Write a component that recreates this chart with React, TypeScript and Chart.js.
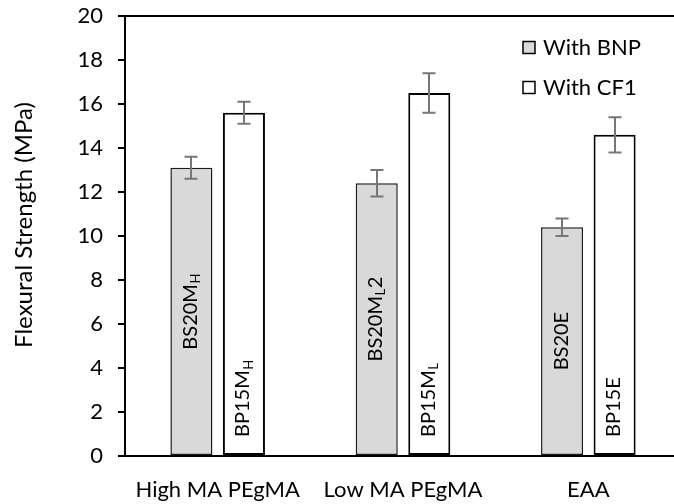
import React, { useEffect, useRef } from "react";
import { Chart, registerables } from "chart.js";

Chart.register(...registerables);

// ---- data ----
const categories = ["High MA PEgMA", "Low MA PEgMA", "EAA"];
const seriesNames = ["With BNP", "With CF1"];
const bnpValues = [13.1, 12.4, 10.4];
const bnpErrors = [0.5, 0.6, 0.4];
const cf1Values = [15.6, 16.5, 14.6];
const cf1Errors = [0.5, 0.9, 0.8];
// sample names: [main, subscript, suffix]
const bnpSampleNames = [["BS20M", "H", ""], ["BS20M", "L", "2"], ["BS20E", "", ""]];
const cf1SampleNames = [["BP15M", "H", ""], ["BP15M", "L", ""], ["BP15E", "", ""]];
const yMin = 0;
const yMax = 20;
const yStep = 2;
const yTitle = "Flexural Strength (MPa)";

const FONT = "Lato";
const errorsBySeries = [bnpErrors, cf1Errors];
const namesBySeries = [bnpSampleNames, cf1SampleNames];

const framePlugin = {
  id: "frame",
  afterDraw(chart: any) {
    const { ctx, chartArea } = chart;
    ctx.save();
    ctx.strokeStyle = "#000";
    ctx.lineWidth = 2;
    ctx.beginPath();
    ctx.moveTo(chartArea.left, chartArea.top);
    ctx.lineTo(chartArea.right, chartArea.top);
    ctx.lineTo(chartArea.right, chartArea.bottom);
    ctx.stroke();
    ctx.restore();
  },
};

const yTitlePlugin = {
  id: "yTitle",
  afterDraw(chart: any) {
    const { ctx, chartArea } = chart;
    ctx.save();
    ctx.fillStyle = "#000";
    ctx.font = `24px ${FONT}`;
    ctx.textAlign = "center";
    ctx.textBaseline = "middle";
    ctx.translate(24, (chartArea.top + chartArea.bottom) / 2 - 11);
    ctx.rotate(-Math.PI / 2);
    ctx.fillText(yTitle, 0, 0);
    ctx.restore();
  },
};

const errorBarPlugin = {
  id: "errorBars",
  afterDatasetsDraw(chart: any) {
    const { ctx } = chart;
    const yScale = chart.scales.y;
    ctx.save();
    ctx.strokeStyle = "#767676";
    ctx.lineWidth = 2;
    chart.data.datasets.forEach((ds: any, i: number) => {
      const meta = chart.getDatasetMeta(i);
      meta.data.forEach((bar: any, j: number) => {
        const v = ds.data[j];
        const e = errorsBySeries[i][j];
        const yTop = yScale.getPixelForValue(v + e);
        const yBot = yScale.getPixelForValue(v - e);
        const x = Math.round(bar.x);
        const cap = 6.5;
        ctx.beginPath();
        ctx.moveTo(x, yTop);
        ctx.lineTo(x, yBot);
        ctx.moveTo(x - cap, yTop);
        ctx.lineTo(x + cap, yTop);
        ctx.moveTo(x - cap, yBot);
        ctx.lineTo(x + cap, yBot);
        ctx.stroke();
      });
    });
    ctx.restore();
  },
};

const barLabelPlugin = {
  id: "barLabels",
  afterDatasetsDraw(chart: any) {
    const { ctx } = chart;
    const mainFont = `20px ${FONT}`;
    const subFont = `13px ${FONT}`;
    ctx.save();
    ctx.fillStyle = "#000";
    ctx.textBaseline = "middle";
    ctx.textAlign = "left";
    chart.data.datasets.forEach((ds: any, i: number) => {
      const meta = chart.getDatasetMeta(i);
      meta.data.forEach((bar: any, j: number) => {
        const [main, sub, suffix] = namesBySeries[i][j];
        ctx.font = mainFont;
        const wMain = ctx.measureText(main).width;
        const wSuffix = suffix ? ctx.measureText(suffix).width : 0;
        ctx.font = subFont;
        const wSub = sub ? ctx.measureText(sub).width + 1 : 0;
        const total = wMain + wSub + wSuffix;
        const cx = bar.x - 1;
        let startY: number;
        if (i === 0) {
          const mid = (bar.y + bar.base) / 2;
          startY = mid + total / 2;
        } else {
          startY = bar.base - 18;
        }
        ctx.save();
        ctx.translate(cx, startY);
        ctx.rotate(-Math.PI / 2);
        ctx.font = mainFont;
        ctx.fillText(main, 0, 0);
        if (sub) {
          ctx.font = subFont;
          ctx.fillText(sub, wMain + 0.5, 5.5);
        }
        if (suffix) {
          ctx.font = mainFont;
          ctx.fillText(suffix, wMain + wSub, 0);
        }
        ctx.restore();
      });
    });
    ctx.restore();
  },
};

const legendPlugin = {
  id: "customLegend",
  afterDraw(chart: any) {
    const { ctx, chartArea } = chart;
    const boxX = chartArea.right - 158;
    const firstY = chartArea.top + 31.5;
    const rowGap = 40;
    ctx.save();
    ctx.font = `22px ${FONT}`;
    ctx.textBaseline = "middle";
    ctx.textAlign = "left";
    chart.data.datasets.forEach((ds: any, i: number) => {
      const cy = firstY + i * rowGap;
      ctx.fillStyle = ds.backgroundColor;
      ctx.fillRect(boxX, cy - 6, 12, 12);
      ctx.strokeStyle = "#000";
      ctx.lineWidth = 1.5;
      ctx.strokeRect(boxX, cy - 6, 12, 12);
      ctx.fillStyle = "#000";
      ctx.fillText(ds.label, boxX + 20, cy);
    });
    ctx.restore();
  },
};

export default function App() {
  const canvasRef = useRef<HTMLCanvasElement | null>(null);

  useEffect(() => {
    document.body.style.margin = "0";
    const canvas = canvasRef.current;
    if (!canvas) return;
    const chart = new Chart(canvas, {
      type: "bar",
      data: {
        labels: categories,
        datasets: [
          {
            label: seriesNames[0],
            data: bnpValues,
            backgroundColor: "#d9d9d9",
            borderColor: "#1a1a1a",
            borderWidth: 1.5,
            borderSkipped: false,
            categoryPercentage: 0.567,
            barPercentage: 0.8,
          },
          {
            label: seriesNames[1],
            data: cf1Values,
            backgroundColor: "#ffffff",
            borderColor: "#000000",
            borderWidth: 2,
            borderSkipped: false,
            categoryPercentage: 0.567,
            barPercentage: 0.8,
          },
        ],
      },
      options: {
        responsive: false,
        animation: false,
        devicePixelRatio: 1,
        layout: { padding: { top: 16, right: 9, left: 0, bottom: 0 } },
        plugins: {
          legend: { display: false },
          tooltip: { enabled: false },
        },
        scales: {
          x: {
            grid: { display: false },
            border: { display: true, color: "#000", width: 2 },
            ticks: {
              color: "#000",
              font: { family: FONT, size: 22 },
              padding: 13,
              maxRotation: 0,
              autoSkip: false,
            },
            afterFit: (scale: any) => {
              scale.height = 48;
              scale.paddingLeft = 0;
              scale.paddingRight = 0;
            },
          },
          y: {
            min: yMin,
            max: yMax,
            grid: {
              drawOnChartArea: false,
              drawTicks: true,
              tickLength: 7,
              color: "#000",
              lineWidth: 2,
            },
            border: { display: true, color: "#000", width: 2 },
            ticks: {
              stepSize: yStep,
              color: "#000",
              font: { family: FONT, size: 22 },
              padding: 15,
            },
            afterFit: (scale: any) => {
              scale.width = 125;
              scale.paddingTop = 0;
              scale.paddingBottom = 0;
            },
          },
        },
      },
      plugins: [framePlugin, errorBarPlugin, barLabelPlugin, legendPlugin, yTitlePlugin],
    } as any);
    return () => chart.destroy();
  }, []);

  return (
    <div style={{ width: 674, height: 504, overflow: "hidden", position: "relative" }}>
      <div style={{ width: 690, height: 504 }}>
        <canvas ref={canvasRef} width={690} height={504} style={{ display: "block" }} />
      </div>
    </div>
  );
}
